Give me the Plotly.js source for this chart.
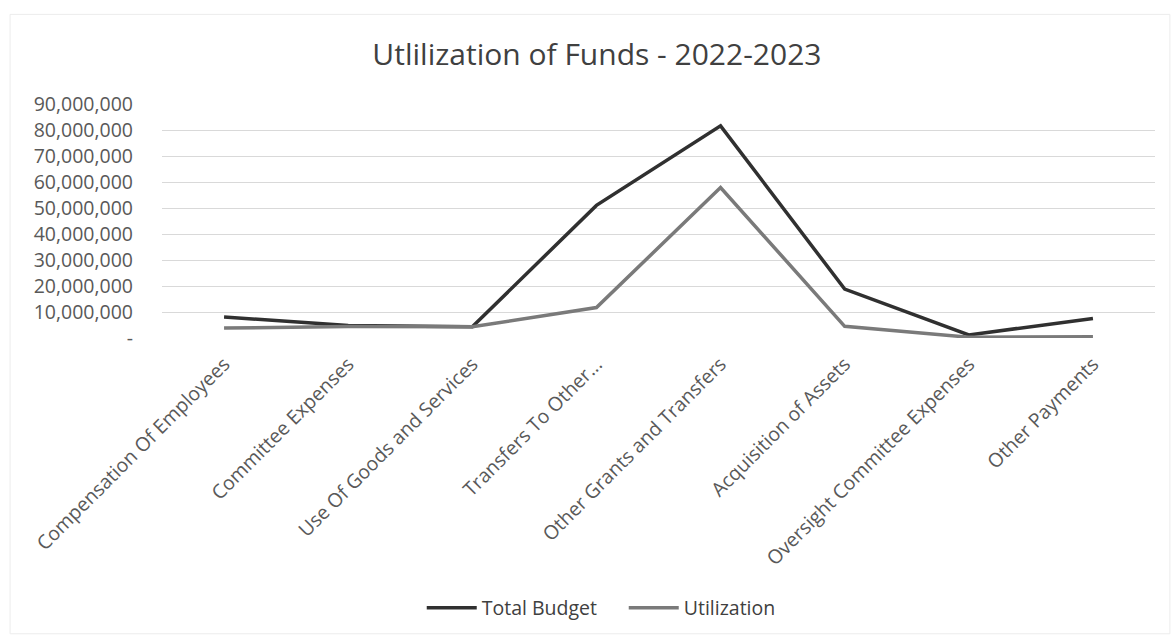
<!DOCTYPE html>
<html>
<head>
<meta charset="utf-8">
<script src="https://cdn.plot.ly/plotly-3.0.1.min.js"></script>
<style>html,body{margin:0;padding:0;background:#fff;}#chart{width:1175px;height:638px;}</style>
</head>
<body>
<div id="chart"></div>
<script>
const categories = ["Compensation Of Employees","Committee Expenses","Use Of Goods and Services","Transfers To Other...","Other Grants and Transfers","Acquisition of Assets","Oversight Committee Expenses","Other Payments"];
const totalBudget = [8100000, 4800000, 4300000, 51000000, 81600000, 18800000, 1200000, 7500000];
const utilization = [3800000, 4400000, 4300000, 11700000, 57900000, 4500000, 300000, 500000];
const yTickVals = [0,10000000,20000000,30000000,40000000,50000000,60000000,70000000,80000000,90000000];
const yTickText = ["-","10,000,000","20,000,000","30,000,000","40,000,000","50,000,000","60,000,000","70,000,000","80,000,000","90,000,000"];

const font = "Open Sans, Liberation Sans, sans-serif";
const traces = [
  {x: categories, y: totalBudget, name: "Total Budget", type: "scatter", mode: "lines",
   line: {color: "#303030", width: 3.5}},
  {x: categories, y: utilization, name: "Utilization", type: "scatter", mode: "lines",
   line: {color: "#7a7a7a", width: 3.5}}
];
const layout = {
  width: 1175, height: 638,
  paper_bgcolor: "#fff", plot_bgcolor: "#fff",
  margin: {l: 162, r: 20, t: 104, b: 299},
  title: {text: "Utlilization of Funds - 2022-2023", x: 0.508, xanchor: "center", y: 0.914, yanchor: "middle",
          font: {family: font, size: 30, color: "#404040"}},
  showlegend: true,
  legend: {orientation: "h", x: 0.465, xanchor: "center", y: -1.145, yref: "paper", yanchor: "middle",
           font: {family: font, size: 19.5, color: "#404040"}, bgcolor: "rgba(0,0,0,0)", itemwidth: 50,
           entrywidth: 137, entrywidthmode: "pixels"},
  xaxis: {type: "category", range: [-0.5, 7.5], tickangle: -45, showgrid: false, zeroline: false, showline: false,
          ticks: "", ticklabelstandoff: 10, tickfont: {family: font, size: 19.5, color: "#595959"}, automargin: false},
  yaxis: {range: [0, 90000000], tickvals: yTickVals, ticktext: yTickText, showgrid: true,
          gridcolor: "#d9d9d9", gridwidth: 1, zeroline: false, showline: false, ticks: "", ticklabelstandoff: 28,
          tickfont: {family: font, size: 19.5, color: "#595959"}, automargin: false},
  shapes: [{type: "rect", xref: "paper", yref: "paper", x0: -0.153, x1: 1.015, y0: -1.264, y1: 1.383,
            line: {color: "#ececec", width: 1}, fillcolor: "rgba(0,0,0,0)", layer: "below"}]
};
Plotly.newPlot("chart", traces, layout, {displayModeBar: false, staticPlot: true});
</script>
</body>
</html>
